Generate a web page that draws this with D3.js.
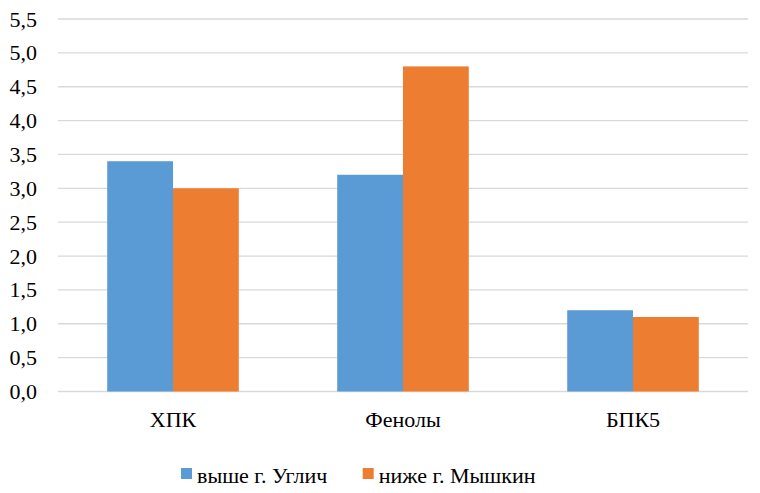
<!DOCTYPE html>
<html>
<head>
<meta charset="utf-8">
<script src="https://cdn.jsdelivr.net/npm/d3@7"></script>
<style>
  body { margin: 0; background: #fff; }
</style>
</head>
<body>
<script>

// categories and series
var categories = ["ХПК", "Фенолы", "БПК5"];
var seriesNames = ["выше г. Углич", "ниже г. Мышкин"];
var upperValues = [3.4, 3.2, 1.2];
var lowerValues = [3.0, 4.8, 1.1];
var yTicks = [0, 0.5, 1, 1.5, 2, 2.5, 3, 3.5, 4, 4.5, 5, 5.5];
var colors = ["#5B9BD5", "#ED7D31"];

var FONT = "Liberation Serif";
var FSIZE = 22;

var chartPad = {
  h: 493,
  w: 760,
  top: 19,
  bottom: 101.5,
  left: 58,
  right: 12
};

var svg = d3.select("body")
          .append("svg")
            .attr("width", chartPad.w)
            .attr("height", chartPad.h);

var xScale = d3.scaleBand()
               .domain(categories)
               .range([chartPad.left, chartPad.w - chartPad.right])
               .paddingInner(0.428)
               .paddingOuter(0.214);

var xSub = d3.scaleBand()
             .domain(seriesNames)
             .range([0, xScale.bandwidth()]);

var yScale = d3.scaleLinear()
               .domain([0, 5.5])
               .range([chartPad.h - chartPad.bottom, chartPad.top]);

var fmt = function(d) { return d3.format(".1f")(d).replace(".", ","); };

// gridlines
svg.selectAll("line.grid")
    .data(yTicks)
    .enter()
  .append("line")
    .attr("class", "grid")
    .attr("x1", chartPad.left)
    .attr("x2", chartPad.w - chartPad.right)
    .attr("y1", function(d) { return yScale(d); })
    .attr("y2", function(d) { return yScale(d); })
    .attr("stroke", "#d9d9d9")
    .attr("stroke-width", 1.3);

// y labels
svg.selectAll("text.ylab")
    .data(yTicks)
    .enter()
  .append("text")
    .attr("class", "ylab")
    .attr("x", chartPad.left - 21)
    .attr("y", function(d) { return yScale(d) + 7.5; })
    .attr("text-anchor", "end")
    .attr("font-family", FONT)
    .attr("font-size", FSIZE)
    .text(fmt);

// x labels
svg.selectAll("text.xlab")
    .data(categories)
    .enter()
  .append("text")
    .attr("class", "xlab")
    .attr("x", function(d) { return xScale(d) + xScale.bandwidth() / 2; })
    .attr("y", yScale(0) + 35.5)
    .attr("text-anchor", "middle")
    .attr("font-family", FONT)
    .attr("font-size", FSIZE)
    .text(function(d) { return d; });

// bars
var bars = [];
categories.forEach(function(c, i) {
  bars.push({ cat: c, s: seriesNames[0], v: upperValues[i], j: 0 });
  bars.push({ cat: c, s: seriesNames[1], v: lowerValues[i], j: 1 });
});

svg.selectAll("rect.bar")
    .data(bars)
    .enter()
  .append("rect")
    .attr("class", "bar")
    .attr("x", function(d) { return xScale(d.cat) + xSub(d.s); })
    .attr("width", xSub.bandwidth())
    .attr("y", function(d) { return yScale(d.v); })
    .attr("height", function(d) { return yScale(0) - yScale(d.v); })
    .attr("fill", function(d) { return colors[d.j]; });

// legend
var legendX = [181, 362.7];

svg.selectAll("rect.key")
    .data(seriesNames)
    .enter()
  .append("rect")
    .attr("class", "key")
    .attr("x", function(d, i) { return legendX[i]; })
    .attr("y", 468)
    .attr("width", 11)
    .attr("height", 11)
    .attr("fill", function(d, i) { return colors[i]; });

svg.selectAll("text.key")
    .data(seriesNames)
    .enter()
  .append("text")
    .attr("class", "key")
    .attr("x", function(d, i) { return legendX[i] + 16; })
    .attr("y", 483)
    .attr("font-family", FONT)
    .attr("font-size", FSIZE)
    .text(function(d) { return d; });
</script>
</body>
</html>
